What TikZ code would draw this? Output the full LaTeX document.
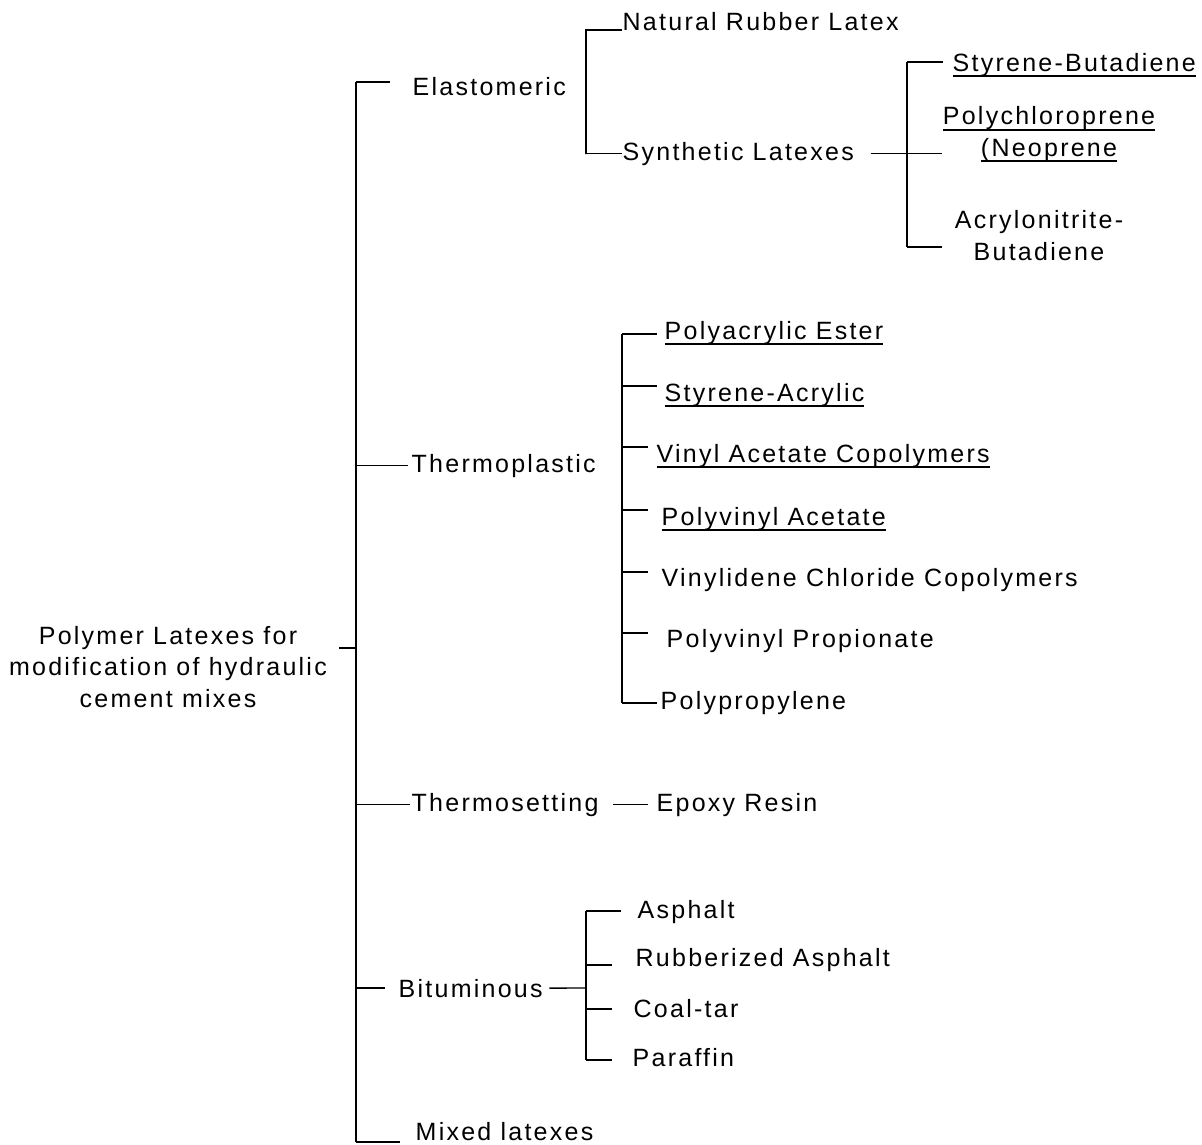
\documentclass[tikz,border=0pt]{standalone}
\usepackage{fontspec}
\newfontfamily\diafont{Liberation Sans}[LetterSpace=9]
\newdimen\pxlen \pxlen=0.2845pt
\newcommand\ulin[1]{\underline{\smash{#1}}}

\begin{document}
\begin{tikzpicture}[x=0.01cm, y=-0.01cm,
    lbl/.style={inner sep=0pt, anchor=base west, font=\diafont\fontsize{7.11}{8.85}\selectfont},
    multi/.style={lbl, anchor=base, align=center},
    wire/.style={draw, line width=0.4pt},
    cut/.style={shorten >=#1\pxlen},
    trim/.style={shorten <=#1\pxlen}]

    \useasboundingbox (0,0) rectangle (1202,1144);

    % root and main groups
    \node[multi] (root) at (168,707) {Polymer Latexes for\\modification of hydraulic\\cement mixes};
    \node[lbl] (elast) at (412,95) {Elastomeric};
    \node[lbl] (tplast) at (411,472) {Thermoplastic};
    \node[lbl] (tset) at (411,811) {Thermosetting};
    \node[lbl] (bitum) at (398,997) {Bituminous};
    \node[lbl] (mixed) at (415,1140) {Mixed latexes};

    % elastomeric
    \node[lbl] (nat) at (622,30) {Natural Rubber Latex};
    \node[lbl] (syn) at (622,160) {Synthetic Latexes};
    \node[lbl] (sbr) at (952,71) {\ulin{Styrene-Butadiene}};
    \node[multi] (neo) at (1049,156) {\ulin{Polychloroprene}\\\ulin{(Neoprene}};
    \node[multi] (nbr) at (1039,260) {Acrylonitrite-\\Butadiene};

    % thermoplastic
    \node[lbl] (pae) at (664,339) {\ulin{Polyacrylic Ester}};
    \node[lbl] (sa) at (664,401) {\ulin{Styrene-Acrylic}};
    \node[lbl] (vac) at (656,462) {\ulin{Vinyl Acetate Copolymers}};
    \node[lbl] (pva) at (661,525) {\ulin{Polyvinyl Acetate}};
    \node[lbl] (vdc) at (661,586) {Vinylidene Chloride Copolymers};
    \node[lbl] (pvp) at (666,647) {Polyvinyl Propionate};
    \node[lbl] (pp) at (660,709) {Polypropylene};

    % thermosetting
    \node[lbl] (epoxy) at (656,811) {Epoxy Resin};

    % bituminous
    \node[lbl] (asph) at (637,918) {Asphalt};
    \node[lbl] (rasph) at (635,966) {Rubberized Asphalt};
    \node[lbl] (coal) at (633,1017) {Coal-tar};
    \node[lbl] (para) at (632,1066) {Paraffin};

    % main spine
    \coordinate (mainT) at (356,82);
    \coordinate (mainB) at (356,1142);
    \coordinate (rootJ) at (356,648);
    \draw[wire] (mainT) -- (mainB);
    \draw[wire, cut=11] (rootJ) -- (rootJ -| root.east);
    \draw[wire, cut=22] (mainT) -- (mainT -| elast.west);
    \draw[wire, cut=3] (mainT |- tplast.west) -- (tplast.west);
    \draw[wire, cut=1] (mainT |- tset.west) -- (tset.west);
    \draw[wire, cut=13] (mainT |- bitum.west) -- (bitum.west);
    \draw[wire, cut=15] (mainB) -- (mainB -| mixed.west);

    % elastomeric brackets
    \coordinate (elBr) at (586,154);
    \draw[wire] (nat.base west) -| (elBr) |- (syn.west);
    \draw[wire, trim=16] (syn.east) -- (syn.east -| neo.west);
    \coordinate (synT) at (907,62);
    \coordinate (synB) at (907,247);
    \draw[wire] (synT) -- (synB);
    \draw[wire, cut=9] (synT) -- (synT -| sbr.west);
    \draw[wire] (synB) -- (synB -| neo.west);

    % thermoplastic bracket
    \foreach \n/\y/\g in {pae/334/7, sa/386/7, vac/447/8, pva/510/13, vdc/572/13, pvp/633/18, pp/703/3}{
        \coordinate (t\n) at (622,\y);
        \draw[wire, cut=\g] (t\n) -- (t\n -| \n.west);
    }
    \draw[wire] (tpae) -- (tpp);

    % thermosetting
    \draw[wire, trim=14, cut=8] (tset.east) -- (epoxy.west);

    % bituminous bracket
    \coordinate (biJ) at (586,988);
    \draw[wire, trim=6] (bitum.east) -- (biJ);
    \foreach \n/\y/\g in {asph/911/16, rasph/965/23, coal/1009/21, para/1060/20}{
        \coordinate (b\n) at (586,\y);
        \draw[wire, cut=\g] (b\n) -- (b\n -| \n.west);
    }
    \draw[wire] (basph) -- (bpara);

\end{tikzpicture}
\end{document}
